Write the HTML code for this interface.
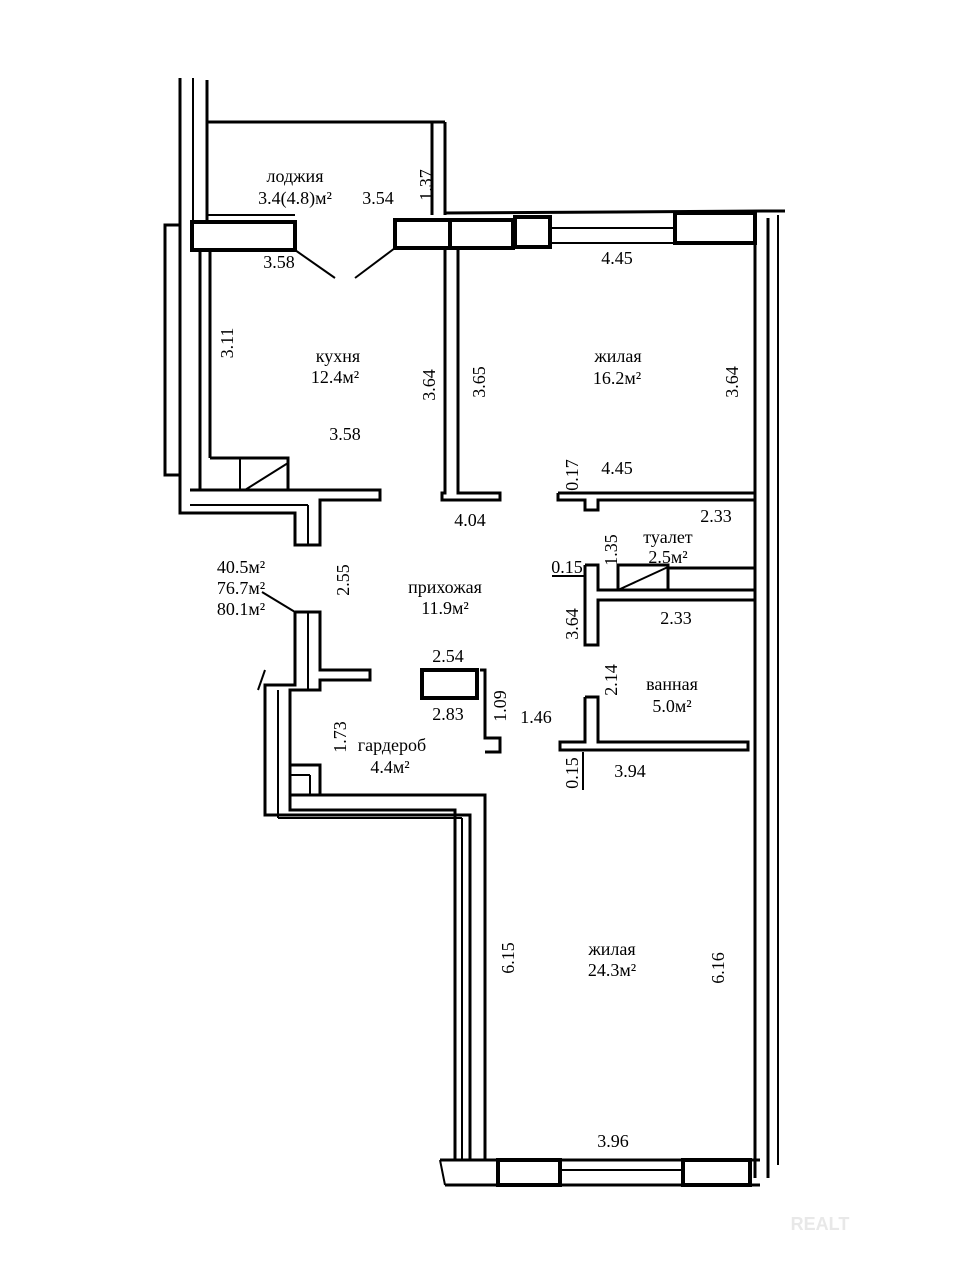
<!DOCTYPE html>
<html><head><meta charset="utf-8"><style>
html,body{margin:0;padding:0;background:#fff}
svg{display:block}
text{font-family:"Liberation Serif",serif;font-size:18px;fill:#000}
</style></head><body>
<svg width="960" height="1280" viewBox="0 0 960 1280" xmlns="http://www.w3.org/2000/svg">
<rect width="960" height="1280" fill="#fff"/>
<g fill="none" stroke="#000" stroke-width="3">
<line x1="180" y1="78" x2="180" y2="490"/>
<line x1="207" y1="80" x2="207" y2="222"/>
<polyline points="180,225 165,225 165,475 180,475"/>
<line x1="193" y1="78" x2="193" y2="222" stroke-width="2"/>
<line x1="207" y1="122" x2="445" y2="122"/>
<line x1="432" y1="122" x2="432" y2="215"/>
<line x1="445" y1="122" x2="445" y2="215"/>
<line x1="207" y1="215" x2="295" y2="215" stroke-width="2"/>
<rect x="192" y="222" width="103" height="28" stroke-width="4"/>
<rect x="395" y="220" width="55" height="28" stroke-width="4"/>
<rect x="450" y="220" width="63" height="28" stroke-width="4"/>
<rect x="515" y="217" width="35" height="30" stroke-width="4"/>
<line x1="445" y1="213" x2="770" y2="211"/>
<line x1="550" y1="228" x2="675" y2="228" stroke-width="2"/>
<line x1="550" y1="243" x2="675" y2="243" stroke-width="2"/>
<rect x="675" y="213" width="80" height="30" stroke-width="4"/>
<line x1="770" y1="211" x2="785" y2="211"/>
<line x1="295" y1="250" x2="335" y2="278" stroke-width="2"/>
<line x1="395" y1="248" x2="355" y2="278" stroke-width="2"/>
<line x1="755" y1="243" x2="755" y2="1178"/>
<line x1="768" y1="218" x2="768" y2="1178"/>
<line x1="778" y1="215" x2="778" y2="1165" stroke-width="2"/>
<line x1="200" y1="250" x2="200" y2="490"/>
<line x1="210" y1="250" x2="210" y2="458"/>
<polyline points="210,458 288,458 288,490"/>
<line x1="240" y1="458" x2="240" y2="490" stroke-width="2"/>
<line x1="245" y1="490" x2="288" y2="463" stroke-width="2"/>
<polyline points="190,490 380,490 380,500 320,500 320,545 295,545 295,513 180,513 180,490"/>
<line x1="190" y1="505" x2="308" y2="505" stroke-width="2"/>
<line x1="308" y1="505" x2="308" y2="545" stroke-width="2"/>
<polyline points="445,248 445,493 442,493 442,500 500,500 500,493 458,493 458,248"/>
<polyline points="558,493 755,493 755,500 598,500 598,510 585,510 585,500 558,500 558,493"/>
<polyline points="585,565 598,565 598,590 755,590 755,600 598,600 598,645 585,645 585,565"/>
<rect x="618" y="565" width="50" height="25"/>
<line x1="618" y1="590" x2="668" y2="567" stroke-width="2"/>
<line x1="668" y1="568" x2="755" y2="568"/>
<line x1="552" y1="576" x2="585" y2="576" stroke-width="2"/>
<polyline points="585,697 598,697 598,742 748,742 748,750 560,750 560,742 585,742 585,697"/>
<line x1="583" y1="752" x2="583" y2="790" stroke-width="2"/>
<polyline points="295,612 320,612 320,670 370,670 370,680 320,680 320,690 290,690 290,810 455,810 455,1160 470,1160 470,815 265,815 265,685 295,685 295,612"/>
<line x1="308" y1="612" x2="308" y2="690" stroke-width="2"/>
<line x1="278" y1="690" x2="278" y2="818" stroke-width="2"/>
<line x1="278" y1="818" x2="462" y2="818" stroke-width="2"/>
<line x1="462" y1="818" x2="462" y2="1160" stroke-width="2"/>
<line x1="265" y1="670" x2="258" y2="690" stroke-width="2"/>
<line x1="262" y1="592" x2="295" y2="612" stroke-width="2"/>
<polyline points="290,795 485,795 485,1160"/>
<polyline points="290,765 320,765 320,795"/>
<line x1="290" y1="775" x2="310" y2="775" stroke-width="2"/>
<line x1="310" y1="775" x2="310" y2="795" stroke-width="2"/>
<rect x="422" y="670" width="55" height="28" stroke-width="4"/>
<polyline points="480,670 485,670 485,738 500,738 500,752 485,752"/>
<line x1="440" y1="1160" x2="760" y2="1160"/>
<line x1="445" y1="1185" x2="760" y2="1185"/>
<line x1="440" y1="1160" x2="445" y2="1185" stroke-width="2"/>
<rect x="498" y="1160" width="62" height="25" stroke-width="4"/>
<rect x="683" y="1160" width="67" height="25" stroke-width="4"/>
<line x1="560" y1="1170" x2="683" y2="1170" stroke-width="2"/>
</g>
<g text-anchor="middle">
<text x="295" y="182">лоджия</text>
<text x="295" y="204">3.4(4.8)м²</text>
<text x="378" y="204">3.54</text>
<text x="279" y="268">3.58</text>
<text x="338" y="362">кухня</text>
<text x="335" y="383">12.4м²</text>
<text x="345" y="440">3.58</text>
<text x="618" y="362">жилая</text>
<text x="617" y="384">16.2м²</text>
<text x="617" y="264">4.45</text>
<text x="617" y="474">4.45</text>
<text x="470" y="526">4.04</text>
<text x="716" y="522">2.33</text>
<text x="668" y="543">туалет</text>
<text x="668" y="563">2.5м²</text>
<text x="445" y="593">прихожая</text>
<text x="445" y="614">11.9м²</text>
<text x="241" y="573">40.5м²</text>
<text x="241" y="594">76.7м²</text>
<text x="241" y="615">80.1м²</text>
<text x="567" y="573">0.15</text>
<text x="676" y="624">2.33</text>
<text x="672" y="690">ванная</text>
<text x="672" y="712">5.0м²</text>
<text x="448" y="662">2.54</text>
<text x="448" y="720">2.83</text>
<text x="536" y="723">1.46</text>
<text x="392" y="751">гардероб</text>
<text x="390" y="773">4.4м²</text>
<text x="630" y="777">3.94</text>
<text x="612" y="955">жилая</text>
<text x="612" y="976">24.3м²</text>
<text x="613" y="1147">3.96</text>
</g>
<g text-anchor="middle">
<text transform="translate(432,185) rotate(-90)">1.37</text>
<text transform="translate(233,343) rotate(-90)">3.11</text>
<text transform="translate(435,385) rotate(-90)">3.64</text>
<text transform="translate(485,382) rotate(-90)">3.65</text>
<text transform="translate(738,382) rotate(-90)">3.64</text>
<text transform="translate(578,475) rotate(-90)">0.17</text>
<text transform="translate(617,550) rotate(-90)">1.35</text>
<text transform="translate(349,580) rotate(-90)">2.55</text>
<text transform="translate(578,624) rotate(-90)">3.64</text>
<text transform="translate(617,680) rotate(-90)">2.14</text>
<text transform="translate(506,706) rotate(-90)">1.09</text>
<text transform="translate(346,737) rotate(-90)">1.73</text>
<text transform="translate(578,773) rotate(-90)">0.15</text>
<text transform="translate(514,958) rotate(-90)">6.15</text>
<text transform="translate(724,968) rotate(-90)">6.16</text>
</g>
<text x="820" y="1230" font-size="40" style="fill:#e8e8e8;font-family:'Liberation Sans',sans-serif;font-weight:bold" text-anchor="middle">REALT</text>
</svg>
</body></html>
